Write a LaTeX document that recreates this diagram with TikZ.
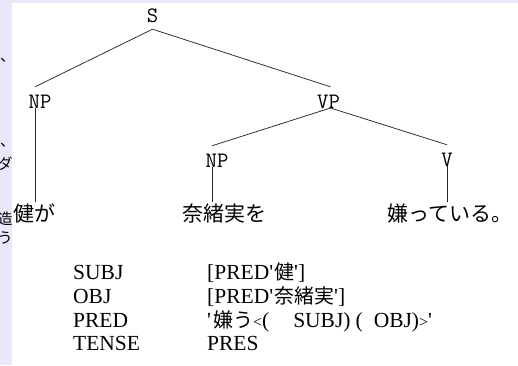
\documentclass[tikz,border=0pt]{standalone}
\usepackage{fontspec}
\newfontfamily\tablefont{Liberation Serif}
\newfontfamily\cjk{Noto Sans CJK JP}
\definecolor{stripcol}{RGB}{232,232,250}
\definecolor{edgecol}{RGB}{40,40,40}
\begin{document}
\begin{tikzpicture}[x=1pt,y=-1pt,
  cat/.style={font=\ttfamily\fontsize{22}{22}\selectfont, inner xsep=0pt, inner ysep=7pt, text height=14pt, text depth=0pt, anchor=base},
  word/.style={font=\cjk\fontsize{21}{21}\selectfont, inner sep=0pt, text height=18.5pt, text depth=2.5pt, anchor=west},
  row/.style={font=\tablefont\fontsize{21.5}{24}\selectfont, inner sep=0pt, anchor=base west},
  frag/.style={font=\cjk\fontsize{15}{15}\selectfont, inner sep=0pt, anchor=base west},
  edge/.style={draw=edgecol, line width=0.75pt}
]
\useasboundingbox (0,0) rectangle (518,365);
\fill[white] (0,0) rectangle (518,365);
\fill[stripcol] (0,0) rectangle (12,365);
\fill[stripcol] (0,0) rectangle (518,3);
% fragments of neighbouring text, cut at the strip edge
\begin{scope}
\clip (0,0) rectangle (12,365);
\node[frag] (f1) at (0,61) {、};
\node[frag] (f2) at (0,146) {、};
\node[frag] (f3) at (-2.5,169) {ダ};
\node[frag] (f4) at (-2.5,224) {造};
\node[frag] (f5) at (-2.5,243) {う};
\end{scope}
% tree
\node[cat] (s) at (152.5,22) {S};
\node[cat] (np1) at (40,108) {NP};
\node[cat] (vp) at (328.5,108) {VP};
\node[cat] (np2) at (217,167) {NP};
\node[cat] (v) at (447,166) {V};
\node[word] (w1) at (13,213) {健が};
\node[word] (w2) at (182,213) {奈緒実を};
\node[word] (w3) at (387,213) {嫌っている。};
\coordinate (np1top) at ([xshift=-5pt]np1.north);
\coordinate (np1bot) at ([xshift=-5pt]np1.base);
\coordinate (vptop) at ([xshift=2pt]vp.north);
\coordinate (vpbot) at ([xshift=2pt]vp.base);
\coordinate (np2top) at ([xshift=-5pt]np2.north);
\coordinate (np2bot) at ([xshift=-5pt]np2.base);
\draw[edge] (s.south) -- (np1top);
\draw[edge] (s.south) -- (vptop);
\draw[edge] (vpbot) -- (np2top);
\draw[edge] (vpbot) -- (v.north);
\draw[edge] (np1bot) -- (np1bot |- w1.north);
\draw[edge] (np2bot) -- (np2bot |- w2.north);
\draw[edge] (v.base) -- (v.base |- w3.north);
% f-structure
\node[row] (k1) at (73,279) {SUBJ};
\node[row] (k2) at (73,303) {OBJ};
\node[row] (k3) at (73,327) {PRED};
\node[row] (k4) at (73,350) {TENSE};
\node[row] (v1) at (207,279) {[PRED'\hspace{1pt}{\cjk\fontsize{20}{24}\selectfont 健}']};
\node[row] (v2) at (207,303) {[PRED'\hspace{1pt}{\cjk\fontsize{20}{24}\selectfont 奈緒実}']};
\node[row] (v3) at (207,327) {'\hspace{2pt}{\cjk\fontsize{20}{24}\selectfont 嫌う}{\fontsize{16}{16}\selectfont <}(\hspace{24pt}SUBJ)\hspace{5pt}(\hspace{11pt}OBJ){\fontsize{16}{16}\selectfont >}'};
\node[row] (v4) at (207,350) {PRES};
\end{tikzpicture}
\end{document}
